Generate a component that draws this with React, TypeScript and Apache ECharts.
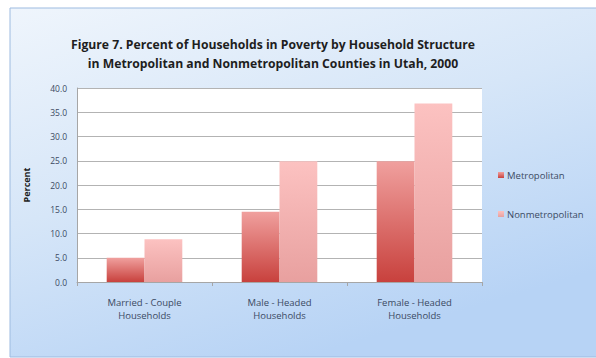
import React, { useEffect, useRef } from "react";
import * as echarts from "echarts";

const categories = ["Married - Couple\nHouseholds", "Male - Headed\nHouseholds", "Female - Headed\nHouseholds"];
const metroValues = [5.0, 14.5, 24.9];
const nonmetroValues = [8.8, 24.9, 36.8];
const seriesNames = ["Metropolitan", "Nonmetropolitan"];
const titleLines = [
  "Figure 7. Percent of Households in Poverty by Household Structure",
  "in Metropolitan and Nonmetropolitan Counties in Utah, 2000",
];

export default function App() {
  const ref = useRef<HTMLDivElement>(null);
  useEffect(() => {
    if (!ref.current) return;
    const chart = echarts.init(ref.current, null, { renderer: "svg" });
    const font = "'Open Sans', 'Noto Sans', sans-serif";
    const labelColor = "#3b4a63";
    chart.setOption({
      animation: false,
      backgroundColor: "transparent",
      graphic: [
        {
          type: "rect",
          z: -10,
          shape: { x: 10, y: 8, width: 590, height: 349 },
          style: {
            fill: new echarts.graphic.LinearGradient(0, 0, 0.5, 1, [
              { offset: 0, color: "#eff5fc" },
              { offset: 0.5, color: "#d6e6f8" },
              { offset: 1, color: "#b7d3f5" },
            ]),
            stroke: "#9dbbe0",
            lineWidth: 1,
          },
        },
        {
          type: "rect",
          z: -5,
          shape: { x: 77, y: 88, width: 405, height: 194 },
          style: { fill: "#ffffff" },
        },
      ],
      title: {
        text: titleLines.join("\n"),
        left: 268,
        top: 30,
        textAlign: "center",
        textStyle: {
          fontFamily: font,
          fontSize: 12.2,
          fontWeight: "bold",
          color: "#1e1e1e",
          lineHeight: 19,
        },
      },
      legend: {
        orient: "vertical",
        left: 493,
        top: 165,
        itemGap: 29,
        itemWidth: 6,
        itemHeight: 6,
        icon: "rect",
        data: seriesNames,
        textStyle: { fontFamily: font, fontSize: 9.5, color: labelColor, padding: [0, 0, 0, -2] },
      },
      grid: { left: 77, top: 88, width: 405, height: 194, containLabel: false },
      xAxis: {
        type: "category",
        data: categories,
        axisLine: { lineStyle: { color: "#a6a6a6" } },
        axisTick: { show: true, alignWithLabel: false, length: 4, lineStyle: { color: "#a6a6a6" } },
        axisLabel: { fontFamily: font, fontSize: 9.5, color: labelColor, margin: 14, lineHeight: 13 },
      },
      yAxis: {
        type: "value",
        min: 0,
        max: 40,
        interval: 5,
        name: "Percent",
        nameLocation: "middle",
        nameGap: 46,
        nameTextStyle: { fontFamily: font, fontSize: 9, fontWeight: "bold", color: "#1e1e1e" },
        axisLine: { show: true, lineStyle: { color: "#a6a6a6" } },
        axisTick: { show: false },
        splitLine: { lineStyle: { color: "#b3b3b3" } },
        axisLabel: {
          fontFamily: font,
          fontSize: 8.5,
          color: labelColor,
          margin: 10,
          formatter: (v: number) => v.toFixed(1),
        },
      },
      series: [
        {
          name: seriesNames[0],
          type: "bar",
          data: metroValues,
          barGap: "0%",
          barCategoryGap: "44%",
          itemStyle: {
            color: new echarts.graphic.LinearGradient(0, 0, 0, 1, [
              { offset: 0, color: "#f0a09e" },
              { offset: 1, color: "#c8413d" },
            ]),
          },
        },
        {
          name: seriesNames[1],
          type: "bar",
          data: nonmetroValues,
          itemStyle: {
            color: new echarts.graphic.LinearGradient(0, 0, 0, 1, [
              { offset: 0, color: "#fcc2c1" },
              { offset: 1, color: "#e8a09f" },
            ]),
          },
        },
      ],
    });
    return () => chart.dispose();
  }, []);
  return (
    <div
      ref={ref}
      style={{ position: "absolute", left: 0, top: 0, width: 596, height: 358 }}
    />
  );
}
